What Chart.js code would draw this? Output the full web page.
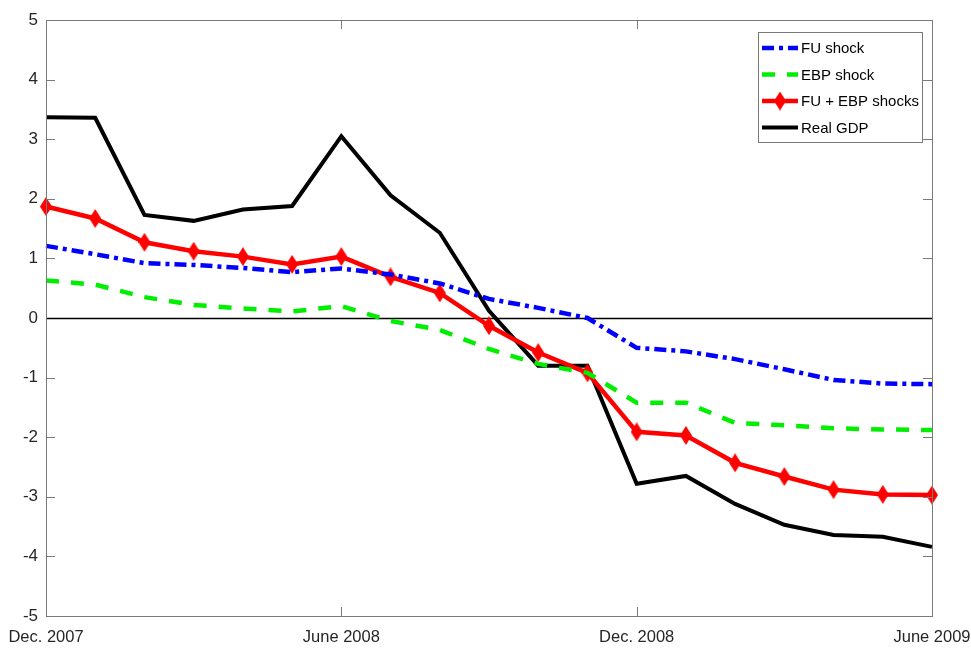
<!DOCTYPE html>
<html>
<head>
<meta charset="utf-8">
<script src="https://cdn.jsdelivr.net/npm/chart.js@4/dist/chart.umd.min.js"></script>
<style>
  html, body { margin: 0; padding: 0; background: #ffffff; }
  #c { display: block; }
</style>
</head>
<body>
<canvas id="c" width="971" height="649"></canvas>
<script>
// Monthly observations, Dec. 2007 – June 2009
const months = ['Dec. 2007','Jan. 2008','Feb. 2008','Mar. 2008','Apr. 2008','May 2008',
  'June 2008','July 2008','Aug. 2008','Sep. 2008','Oct. 2008','Nov. 2008','Dec. 2008',
  'Jan. 2009','Feb. 2009','Mar. 2009','Apr. 2009','May 2009','June 2009'];
const shownMonths = ['Dec. 2007','June 2008','Dec. 2008','June 2009'];

const fuShock       = [1.21, 1.07, 0.92, 0.89, 0.84, 0.77, 0.83, 0.73, 0.58, 0.32, 0.17, 0.00,
                       -0.50, -0.56, -0.69, -0.86, -1.04, -1.10, -1.11];
const ebpShock      = [0.63, 0.56, 0.35, 0.22, 0.16, 0.11, 0.20, -0.05, -0.20, -0.52, -0.77, -0.92,
                       -1.42, -1.42, -1.76, -1.80, -1.85, -1.87, -1.88];
const combinedShock = [1.87, 1.67, 1.27, 1.12, 1.03, 0.90, 1.03, 0.69, 0.42, -0.13, -0.58, -0.92,
                       -1.91, -1.97, -2.43, -2.66, -2.88, -2.96, -2.97];
const realGDP       = [3.37, 3.36, 1.73, 1.63, 1.82, 1.88, 3.05, 2.06, 1.43, 0.12, -0.80, -0.80,
                       -2.78, -2.65, -3.12, -3.47, -3.64, -3.67, -3.84];

const yMin = -5, yMax = 5, yStep = 1;

const FONT = "'Liberation Sans', Arial, sans-serif";
const AXIS_GREY = '#7a7a7a';
const TEXT_COLOR = '#262626';

// Tall diamond marker for the combined-shocks series
function diamond(w, h, color) {
  const c = document.createElement('canvas');
  c.width = w; c.height = h;
  const g = c.getContext('2d');
  g.fillStyle = color;
  g.beginPath();
  g.moveTo(w / 2, 0); g.lineTo(w, h / 2); g.lineTo(w / 2, h); g.lineTo(0, h / 2);
  g.closePath(); g.fill();
  return c;
}
const redDiamond = diamond(12, 19, '#ff0000');

// Zero line, axis box with inward ticks, and boxed legend inside the plot
const framePlugin = {
  id: 'frame',
  beforeDatasetsDraw(chart) {
    const { ctx, chartArea: a, scales: { y } } = chart;
    const y0 = Math.round(y.getPixelForValue(0)) + 0.5;
    ctx.save();
    ctx.strokeStyle = '#000000';
    ctx.lineWidth = 1.5;
    ctx.beginPath(); ctx.moveTo(a.left, y0); ctx.lineTo(a.right, y0); ctx.stroke();
    ctx.restore();
  },
  afterDatasetsDraw(chart) {
    const { ctx, chartArea: a, scales: { x, y } } = chart;
    ctx.save();
    ctx.strokeStyle = AXIS_GREY;
    ctx.lineWidth = 1;
    ctx.strokeRect(Math.round(a.left) + 0.5, Math.round(a.top) + 0.5,
                   Math.round(a.right - a.left), Math.round(a.bottom - a.top));
    const tl = 9;
    ctx.beginPath();
    y.ticks.forEach(t => {
      if (t.value === yMin || t.value === yMax || t.value === 0) return;
      const py = Math.round(y.getPixelForValue(t.value)) + 0.5;
      ctx.moveTo(a.left, py); ctx.lineTo(a.left + tl, py);
      ctx.moveTo(a.right, py); ctx.lineTo(a.right - tl, py);
    });
    shownMonths.forEach(m => {
      const i = months.indexOf(m);
      if (i <= 0 || i >= months.length - 1) return;
      const px = Math.round(x.getPixelForValue(i)) + 0.5;
      ctx.moveTo(px, a.bottom); ctx.lineTo(px, a.bottom - tl);
      ctx.moveTo(px, a.top); ctx.lineTo(px, a.top + tl);
    });
    ctx.stroke();

    // legend, anchored to the upper right corner of the plot area
    const bw = 164, bh = 110;
    const bx = a.right - 10 - bw, by = a.top + 12;
    ctx.fillStyle = '#ffffff';
    ctx.fillRect(bx, by, bw, bh);
    ctx.strokeStyle = AXIS_GREY;
    ctx.strokeRect(Math.round(bx) + 0.5, Math.round(by) + 0.5, bw, bh);
    ctx.font = '15px ' + FONT;
    ctx.textBaseline = 'middle';
    ctx.textAlign = 'left';
    chart.data.datasets.forEach((ds, k) => {
      const ry = by + 16 + k * 26.5;
      ctx.save();
      ctx.strokeStyle = ds.borderColor;
      ctx.lineWidth = ds.borderWidth;
      ctx.setLineDash(ds.borderDash || []);
      ctx.beginPath(); ctx.moveTo(bx + 4, ry); ctx.lineTo(bx + 40, ry); ctx.stroke();
      ctx.restore();
      if (ds.pointStyle instanceof HTMLCanvasElement) {
        const img = ds.pointStyle;
        ctx.drawImage(img, bx + 22 - img.width / 2, ry - img.height / 2);
      }
      ctx.fillStyle = '#000000';
      ctx.fillText(ds.label, bx + 43, ry + 1);
    });
    ctx.restore();
  }
};

new Chart(document.getElementById('c'), {
  type: 'line',
  data: {
    labels: months,
    datasets: [
      { label: 'FU shock', data: fuShock, borderColor: '#0000ff', borderWidth: 4.5,
        borderDash: [12, 5, 4, 5], pointRadius: 0, tension: 0, fill: false },
      { label: 'EBP shock', data: ebpShock, borderColor: '#00ee00', borderWidth: 4.5,
        borderDash: [13, 12], pointRadius: 0, tension: 0, fill: false },
      { label: 'FU + EBP shocks', data: combinedShock, borderColor: '#ff0000', borderWidth: 4.5,
        pointStyle: redDiamond, pointRadius: 9, pointHoverRadius: 9, tension: 0, fill: false, clip: false },
      { label: 'Real GDP', data: realGDP, borderColor: '#000000', borderWidth: 4,
        pointRadius: 0, tension: 0, fill: false }
    ]
  },
  options: {
    responsive: false,
    animation: false,
    devicePixelRatio: 1,
    layout: { padding: { top: 20, right: 39, left: 0, bottom: 0 } },
    plugins: { legend: { display: false }, tooltip: { enabled: false } },
    scales: {
      x: {
        type: 'category',
        offset: false,
        grid: { display: false, drawTicks: false },
        border: { display: false },
        ticks: {
          autoSkip: false, maxRotation: 0, minRotation: 0, padding: 12,
          color: TEXT_COLOR, font: { family: FONT, size: 16.5 },
          callback(v, i) { const m = months[i]; return shownMonths.includes(m) ? m : ''; }
        },
        afterFit(s) { s.height = 33; s.paddingLeft = 0; s.paddingRight = 0; }
      },
      y: {
        min: yMin, max: yMax,
        grid: { display: false, drawTicks: false },
        border: { display: false },
        ticks: {
          stepSize: yStep, padding: 8,
          color: TEXT_COLOR, font: { family: FONT, size: 17 }
        },
        afterFit(s) { s.width = 46; s.paddingTop = 0; s.paddingBottom = 0; }
      }
    }
  },
  plugins: [framePlugin]
});
</script>
</body>
</html>
